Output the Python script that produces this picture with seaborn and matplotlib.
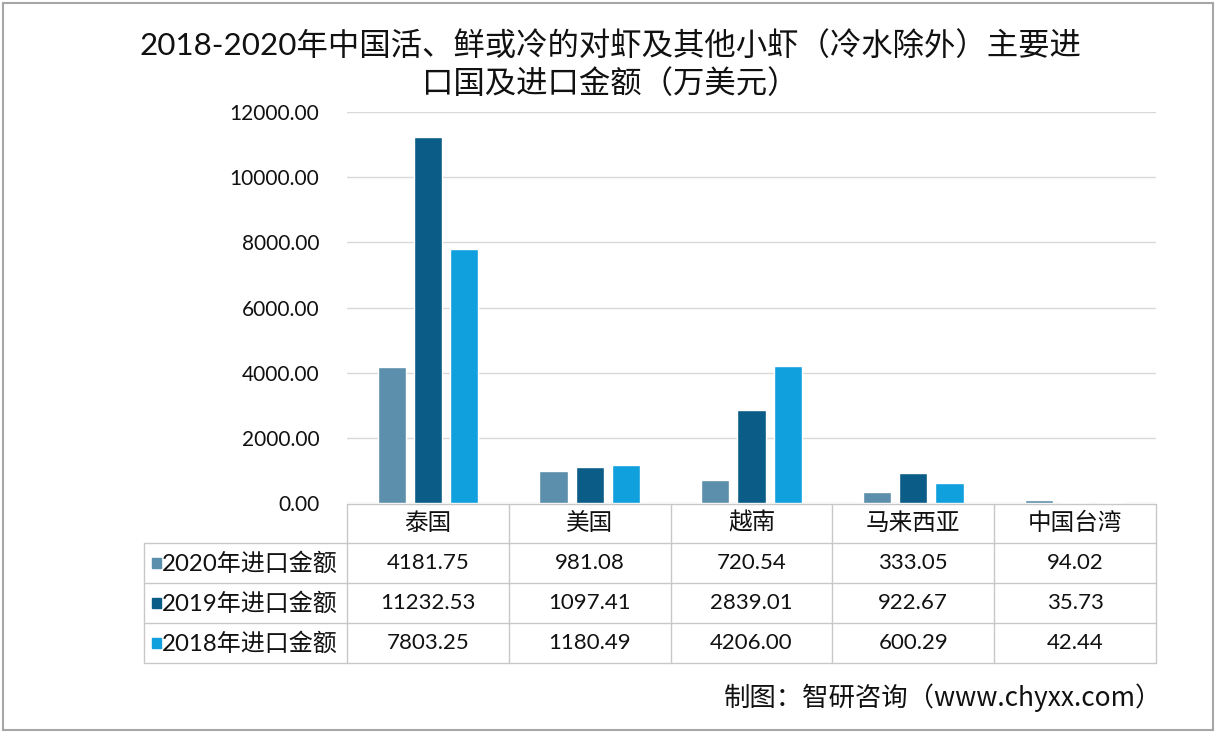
import matplotlib
matplotlib.use("Agg")
import matplotlib.pyplot as plt
import seaborn as sns
import pandas as pd
from matplotlib.patches import Rectangle

categories = ["泰国", "美国", "越南", "马来西亚", "中国台湾"]
series_names = ["2020年进口金额", "2019年进口金额", "2018年进口金额"]
values_2020 = [4181.75, 981.08, 720.54, 333.05, 94.02]
values_2019 = [11232.53, 1097.41, 2839.01, 922.67, 35.73]
values_2018 = [7803.25, 1180.49, 4206.00, 600.29, 42.44]
y_ticks = [0, 2000, 4000, 6000, 8000, 10000, 12000]
title_text = "2018-2020年中国活、鲜或冷的对虾及其他小虾（冷水除外）主要进\n口国及进口金额（万美元）"
source_text = "制图：智研咨询（www.chyxx.com）"

colors = ["#5B8FAB", "#0B5D87", "#0FA0DD"]

rows = []
for name, vals in zip(series_names, [values_2020, values_2019, values_2018]):
    for c, v in zip(categories, vals):
        rows.append({"国家": c, "系列": name, "金额": v})
df = pd.DataFrame(rows)

sns.set_theme(style="white")
plt.rcParams["font.family"] = ["Lato", "Noto Sans CJK SC", "DejaVu Sans"]

W, H = 1216, 732
fig = plt.figure(figsize=(W / 100, H / 100), dpi=100)
fig.patch.set_facecolor("white")

ax_l, ax_r, ax_t, ax_b = 347, 1156, 112, 503
ax = fig.add_axes([ax_l / W, 1 - ax_b / H, (ax_r - ax_l) / W, (ax_b - ax_t) / H])
sns.barplot(data=df, x="国家", y="金额", hue="系列", order=categories,
            hue_order=series_names, palette=colors, width=0.67, gap=0.22,
            saturation=1, ax=ax, legend=False, zorder=3)
ax.set_xlim(-0.5, len(categories) - 0.5)
ax.set_ylim(0, 12000)
ax.set_yticks(y_ticks)
ax.set_yticklabels([f"{v:.2f}" for v in y_ticks], fontsize=15, color="#111111")
ax.tick_params(axis="y", length=0, pad=20)
ax.set_xticks([])
ax.set_xlabel("")
ax.set_ylabel("")
for s in ax.spines.values():
    s.set_visible(False)
ax.yaxis.grid(True, color="#D9D9D9", linewidth=1.0, zorder=0)
ax.set_axisbelow(True)

# overlay in pixel coordinates for table, title, source, border
ov = fig.add_axes([0, 0, 1, 1], zorder=5)
ov.set_xlim(0, W)
ov.set_ylim(H, 0)
ov.axis("off")
ov.patch.set_alpha(0)

fig.canvas.draw()
edges = []
for i in range(len(categories) + 1):
    px = ax.transData.transform((i - 0.5, 0))[0]
    edges.append(px * W / fig.bbox.width)

line_c = "#C8C8C8"
row_y = [504, 543, 583, 623, 663]
left_x = 144
ov.plot([edges[0], edges[-1]], [row_y[0], row_y[0]], color=line_c, lw=1)
for y in row_y[1:]:
    ov.plot([left_x, edges[-1]], [y, y], color=line_c, lw=1)
for e in edges:
    ov.plot([e, e], [row_y[0], row_y[-1]], color=line_c, lw=1)
ov.plot([left_x, left_x], [row_y[1], row_y[-1]], color=line_c, lw=1)

for i, c in enumerate(categories):
    cx = (edges[i] + edges[i + 1]) / 2
    ov.text(cx, (503 + row_y[1]) / 2, c, ha="center", va="center",
            fontsize=17, color="#111111", family=["Noto Sans CJK SC"])
for r, (name, vals) in enumerate(zip(series_names, [values_2020, values_2019, values_2018])):
    cy = (row_y[r + 1] + row_y[r + 2]) / 2
    ov.add_patch(Rectangle((152, cy - 5), 9, 10, color=colors[r]))
    ov.text(162, cy, name, ha="left", va="center", fontsize=17.3, color="#111111")
    for i, v in enumerate(vals):
        cx = (edges[i] + edges[i + 1]) / 2
        ov.text(cx, cy, f"{v:.2f}", ha="center", va="center", fontsize=16, color="#111111")

ov.text(610, 64, title_text, ha="center", va="center", fontsize=22.6, color="#111111",
        linespacing=1.3)
ov.text(1162, 698, source_text, ha="right", va="center", fontsize=19, color="#111111",
        family=["Noto Sans CJK SC"])
ov.add_patch(Rectangle((2.5, 2.5), W - 6, H - 5, fill=False, edgecolor="#A6A6A6", lw=1.5))

fig.savefig("out.png", dpi=100)
